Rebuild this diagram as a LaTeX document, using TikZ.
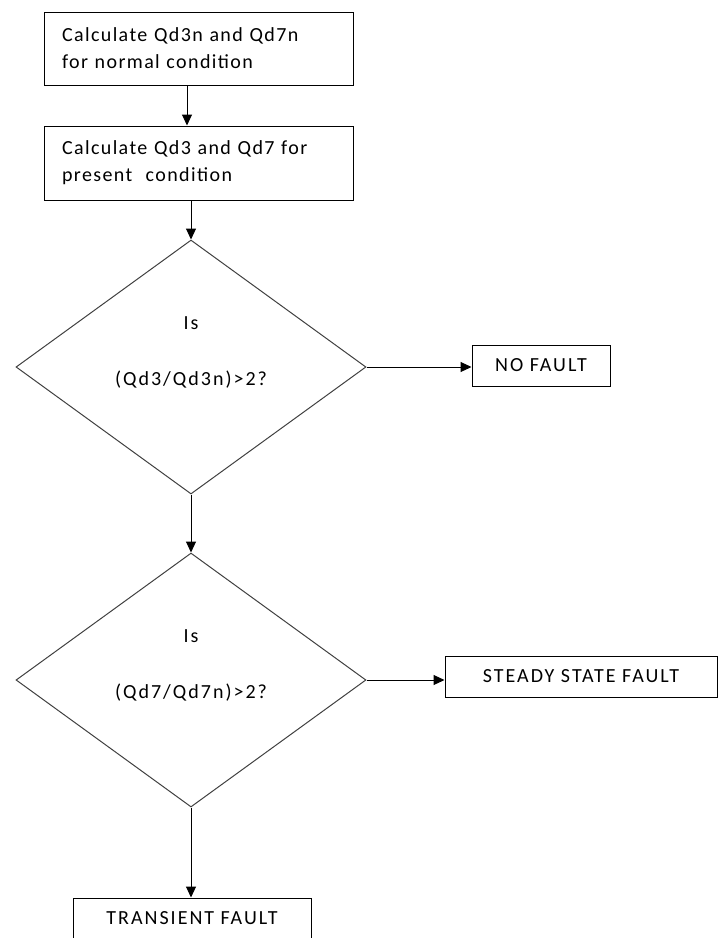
\documentclass[tikz,border=0pt]{standalone}
\usepackage{fontspec}
\setmainfont{Carlito}[LetterSpace=10]
\newfontfamily\boxfont{Carlito}[LetterSpace=7]
\usetikzlibrary{shapes.geometric,arrows.meta}
\begin{document}
\begin{tikzpicture}[x=1pt,y=-1pt,
  font=\fontsize{20}{27}\selectfont,
  procbox/.style={draw, line width=1pt, inner sep=0pt, align=left,
    font=\boxfont\fontsize{20}{27}\selectfont},
  endbox/.style={draw, line width=1pt, inner sep=0pt, minimum height=41pt, align=center},
  decision/.style={diamond, draw=black!75, line width=1pt, inner sep=0pt,
    minimum width=350pt, minimum height=254pt},
  qtext/.style={inner sep=0pt},
  arr/.style={-{Triangle[length=11pt,width=10pt]}, line width=1pt}]
\useasboundingbox (0,0) rectangle (718,938);

\node[procbox, minimum width=309pt, minimum height=73pt, text width=273pt] (b1) at (198.5,48.5)
  {Calculate Qd3n and Qd7n\\for normal condition};
\node[procbox, minimum width=309pt, minimum height=74pt, text width=273pt] (b2) at (198.5,163)
  {Calculate Qd3 and Qd7 for\\present\ \ condition};

\node[decision] (d1) at (191,367) {};
\node[qtext] (d1a) at (191,323) {Is};
\node[qtext] (d1b) at (191,380) {(Qd3/Qd3n)>2?};

\node[endbox, minimum width=138pt] (nf) at (541,365.5) {NO FAULT};

\node[decision] (d2) at (191,680) {};
\node[qtext] (d2a) at (191,636) {Is};
\node[qtext] (d2b) at (191,693) {(Qd7/Qd7n)>2?};

\node[endbox, minimum width=272pt] (sf) at (581,676.5) {STEADY STATE FAULT};
\node[endbox, minimum width=238pt] (tf) at (192,918.5) {TRANSIENT FAULT};

\draw[arr] ([xshift=-11.5pt]b1.south) -- ([xshift=-11.5pt]b2.north);
\draw[arr] (b2.south -| d1.north) -- (d1.north);
\draw[arr] (d1.east) -- (d1.east -| nf.west);
\draw[arr] (d1.south) -- (d2.north);
\draw[arr] (d2.east) -- (d2.east -| sf.west);
\draw[arr] (d2.south) -- (d2.south |- tf.north);
\end{tikzpicture}
\end{document}
